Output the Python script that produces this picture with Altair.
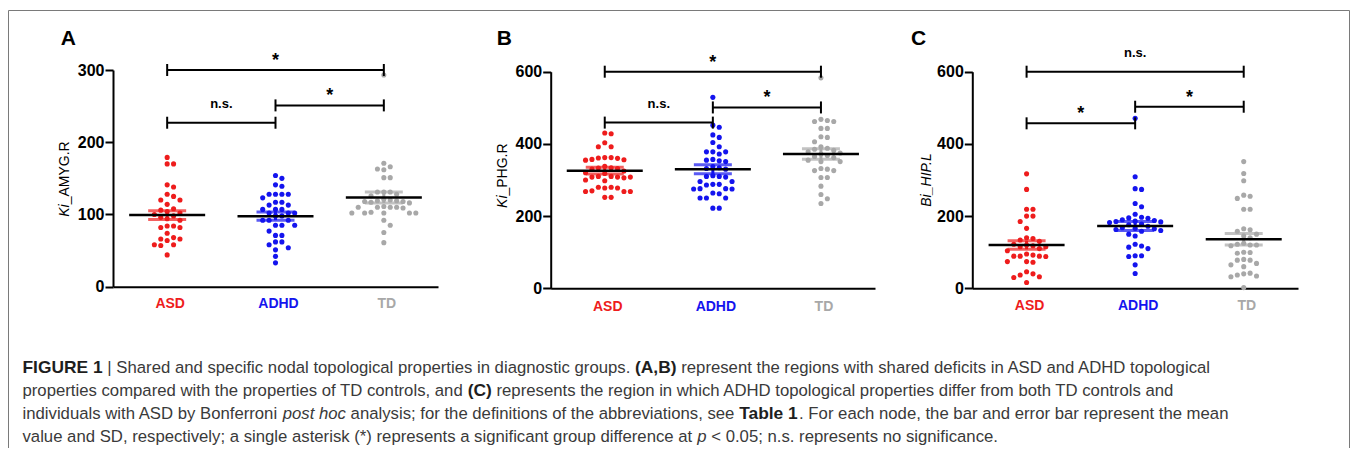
import altair as alt
import pandas as pd

GROUPS = ["ASD", "ADHD", "TD"]
GROUP_COLORS = ["#ee1c1c", "#1414ee", "#a8a8a8"]

# ---------------- Panel A : Ki_AMYG.R ----------------
A_ASD = [179, 170, 170, 141, 138, 128, 125, 120, 120, 114, 108, 106, 104, 102, 100, 98,
         96, 94, 92, 84, 82, 82, 84, 74, 68, 66, 64, 66, 58, 57, 58, 44]
A_ADHD = [154, 150, 141, 139, 128, 128, 128, 128, 123, 117, 117, 113, 113, 107, 107, 107,
          102, 102, 102, 98, 98, 92, 92, 92, 85, 85, 85, 77, 71, 71, 62, 62, 58, 54, 51, 42, 33]
A_TD = [293, 171, 166, 163, 162, 151, 151, 131, 131, 131, 128, 126, 121, 119, 119, 118, 118,
        117, 116, 120, 110, 110, 110, 109, 111, 110, 102, 102, 102, 102, 102, 103, 92, 85, 75, 61]
A_MEAN = [99.2, 97.7, 123.6]
A_SEM = [6.0, 5.6, 7.6]
A_TICKS = [0, 100, 200, 300]
A_BR_FROM = [0, 0, 1]
A_BR_TO = [2, 1, 2]
A_BR_Y = [300, 227, 251]
A_BR_LAB = ["*", "n.s.", "*"]

# ---------------- Panel B : Ki_PHG.R ----------------
B_ASD = [430, 428, 403, 392, 392, 362, 361, 357, 356, 355, 360, 362, 338, 333, 334, 332, 330,
         325, 320, 318, 310, 308, 308, 308, 306, 310, 300, 298, 280, 278, 278, 280, 268, 268,
         268, 270, 252, 252]
B_ADHD = [529, 452, 446, 425, 418, 404, 392, 378, 372, 378, 378, 357, 355, 351, 353, 337, 332,
          330, 334, 310, 308, 310, 312, 296, 296, 288, 286, 288, 275, 275, 276, 276, 262, 264,
          250, 250, 250, 222, 222]
B_TD = [583, 468, 462, 462, 465, 443, 443, 418, 420, 406, 392, 388, 385, 382, 378, 375, 372,
        368, 365, 362, 351, 351, 355, 330, 326, 326, 332, 307, 307, 283, 260, 248, 235]
B_MEAN = [325.8, 329.5, 372.0]
B_SEM = [9.5, 12.5, 14.5]
B_TICKS = [0, 200, 400, 600]
B_BR_FROM = [0, 0, 1]
B_BR_TO = [2, 1, 2]
B_BR_Y = [600, 459, 501]
B_BR_LAB = ["*", "n.s.", "*"]

# ---------------- Panel C : Bi_HIP.L ----------------
C_ASD = [317, 274, 219, 219, 200, 200, 185, 166, 140, 138, 134, 130, 122, 118, 115, 120, 115,
         110, 104, 95, 92, 88, 89, 89, 89, 74, 72, 74, 46, 40, 37, 32, 30, 16]
C_ADHD = [471, 309, 276, 274, 235, 226, 205, 197, 195, 194, 190, 188, 186, 185, 184, 182, 178,
          176, 172, 168, 166, 165, 163, 160, 158, 150, 145, 122, 117, 114, 110, 90, 90, 88, 65, 41]
C_TD = [351, 318, 298, 258, 249, 255, 219, 219, 162, 165, 158, 150, 145, 140, 125, 122, 120,
        118, 120, 100, 97, 99, 80, 78, 78, 69, 65, 60, 42, 40, 34, 32, 37, 2]
C_MEAN = [120.0, 172.6, 135.7]
C_SEM = [12.0, 12.5, 16.0]
C_TICKS = [0, 200, 400, 600]
C_BR_FROM = [0, 0, 1]
C_BR_TO = [2, 1, 2]
C_BR_Y = [600, 457, 503]
C_BR_LAB = ["n.s.", "*", "*"]

SANS = "Liberation Sans, Arial, sans-serif"
CAP_FONT = SANS
W, H = 1342, 440
X_DOMAIN = [-0.5, 2.5]


def swarm(vals, px_per_unit, step_px, slot_px=6.4, min_dy=6.5):
    """Deterministic beeswarm: x offsets (in category units) so dots do not overlap."""
    order = sorted(range(len(vals)), key=lambda i: -vals[i])
    placed = []
    offs = [0.0] * len(vals)
    for i in order:
        yp = vals[i] * px_per_unit
        for k in [0, 1, -1, 2, -2, 3, -3, 4, -4, 5, -5, 6, -6]:
            if all(not (sk == k and abs(yp - py) < min_dy) for py, sk in placed):
                placed.append((yp, k))
                offs[i] = k * slot_px / step_px
                break
    return offs


def panel(series, means, sems, ticks, br_from, br_to, br_y, br_lab, xr, yr, label_y):
    ydom = [ticks[0], ticks[-1]]
    ppu = (yr[0] - yr[1]) / (ydom[1] - ydom[0])
    step = (xr[1] - xr[0]) / (X_DOMAIN[1] - X_DOMAIN[0])
    rows = []
    for gi, (g, vals) in enumerate(zip(GROUPS, series)):
        offs = swarm(vals, ppu, step)
        for v, o in zip(vals, offs):
            rows.append({"grp": g, "x": gi + o, "v": v})
    pts = pd.DataFrame(rows)
    stats = pd.DataFrame({"grp": GROUPS, "gi": [0, 1, 2], "mean": means,
                          "lo": [m - s for m, s in zip(means, sems)],
                          "hi": [m + s for m, s in zip(means, sems)]})
    caps = pd.concat([stats.assign(yc=stats["lo"]), stats.assign(yc=stats["hi"])])
    br = pd.DataFrame({"x1": br_from, "x2": br_to, "y": br_y, "lab": br_lab})
    br["xm"] = (br["x1"] + br["x2"]) / 2
    ends = pd.concat([pd.DataFrame({"xe": br["x1"], "y": br["y"]}),
                      pd.DataFrame({"xe": br["x2"], "y": br["y"]})])
    labs = pd.DataFrame({"grp": GROUPS, "gi": [0, 1, 2]})

    xs = alt.Scale(domain=X_DOMAIN, range=list(xr), nice=False, zero=False)
    ys = alt.Scale(domain=ydom, range=list(yr), nice=False, zero=False)
    xax = alt.Axis(orient="bottom", offset=yr[0] - H, labels=False, ticks=False, grid=False,
                   title=None, domainColor="black", domainWidth=2)
    yax = alt.Axis(orient="left", offset=-xr[0], values=ticks, grid=False, title=None,
                   domainColor="black", domainWidth=2, tickColor="black", tickWidth=2,
                   tickSize=8, labelFont=SANS, labelFontSize=16, labelFontWeight="bold",
                   labelColor="black", labelPadding=1, labelFlush=False, labelOverlap=False)
    col = alt.Color("grp:N", scale=alt.Scale(domain=GROUPS, range=GROUP_COLORS), legend=None)

    def X(f):
        return alt.X(f, scale=xs, axis=xax)

    def Y(f):
        return alt.Y(f, scale=ys, axis=yax)

    points = alt.Chart(pts).mark_circle(size=26, opacity=1).encode(
        x=X("x:Q"), y=Y("v:Q"), color=col)
    sem_rule = alt.Chart(stats).mark_rule(strokeWidth=3).encode(
        x=X("gi:Q"), y=Y("lo:Q"), y2="hi:Q", color=col)
    sem_caps = alt.Chart(caps).mark_tick(orient="horizontal", size=38, thickness=3).encode(
        x=X("gi:Q"), y=Y("yc:Q"), color=col)
    mean_line = alt.Chart(stats).mark_tick(orient="horizontal", size=76, thickness=2.5,
                                           color="black", opacity=1).encode(
        x=X("gi:Q"), y=Y("mean:Q"))
    br_rule = alt.Chart(br).mark_rule(strokeWidth=2, color="black").encode(
        x=X("x1:Q"), x2="x2:Q", y=Y("y:Q"))
    br_ends = alt.Chart(ends).mark_tick(orient="vertical", size=12, thickness=2,
                                        color="black", opacity=1).encode(
        x=X("xe:Q"), y=Y("y:Q"))
    stars = alt.Chart(br).transform_filter(alt.datum.lab == "*").mark_text(
        font=SANS, fontSize=18, fontWeight="bold", color="black", dy=-4,
        baseline="alphabetic").encode(x=X("xm:Q"), y=Y("y:Q"), text="lab:N")
    ns = alt.Chart(br).transform_filter(alt.datum.lab == "n.s.").mark_text(
        font=SANS, fontSize=13, fontWeight="bold", color="black", dy=-15,
        baseline="alphabetic").encode(x=X("xm:Q"), y=Y("y:Q"), text="lab:N")
    cat = alt.Chart(labs).mark_text(font=SANS, fontSize=14, fontWeight="bold",
                                    baseline="alphabetic", dx=3).encode(
        x=X("gi:Q"), y=alt.value(label_y), text="grp:N", color=col)
    return alt.layer(points, sem_rule, sem_caps, mean_line, br_rule, br_ends, stars, ns, cat)


pA = panel([A_ASD, A_ADHD, A_TD], A_MEAN, A_SEM, A_TICKS, A_BR_FROM, A_BR_TO, A_BR_Y, A_BR_LAB,
           (105.0, 430.0), (278.7, 62.0), 300.0)
pB = panel([B_ASD, B_ADHD, B_TD], B_MEAN, B_SEM, B_TICKS, B_BR_FROM, B_BR_TO, B_BR_Y, B_BR_LAB,
           (542.7, 867.0), (280.3, 63.7), 302.5)
pC = panel([C_ASD, C_ADHD, C_TD], C_MEAN, C_SEM, C_TICKS, C_BR_FROM, C_BR_TO, C_BR_Y, C_BR_LAB,
           (964.3, 1290.0), (280.3, 63.7), 302.0)

ONE = alt.Data(values=[{}])


def txt(s, x, y, size, weight="normal", style="normal", align="left", angle=0,
        color="black", font=SANS):
    return alt.Chart(ONE).mark_text(text=s, font=font, fontSize=size, fontWeight=weight,
                                    fontStyle=style, align=align, baseline="alphabetic",
                                    angle=angle, color=color).encode(
        x=alt.value(x), y=alt.value(y))


deco = [
    alt.Chart(ONE).mark_rect(fillOpacity=0, stroke="#7a7a7a", strokeWidth=1).encode(
        x=alt.value(0.5), x2=alt.value(1341.5), y=alt.value(2.5), y2=alt.value(480)),
    txt("A", 52.7, 37, 21, weight="bold"),
    txt("B", 488.7, 37, 21, weight="bold"),
    txt("C", 903, 37, 21, weight="bold"),
    txt("Ki", 60.5, 196.3, 14, style="italic", align="right", angle=270),
    txt("_AMYG.R", 60.5, 196.3, 14, align="left", angle=270),
    txt("Ki", 499, 187.5, 14, style="italic", align="right", angle=270),
    txt("_PHG.R", 499, 187.5, 14, align="left", angle=270),
    txt("Bi_HIP.L", 922.5, 172, 14, style="italic", align="center", angle=270),
]

# ---------------- caption (mixed styles laid out with Helvetica/Arial metrics) ----------------
REG = {" ": 278, "(": 333, ")": 333, "*": 389, ",": 278, "-": 333, ".": 278, ":": 278,
       ";": 278, "<": 584, "_": 556, "|": 260}
REG.update({d: 556 for d in "0123456789"})
REG.update(dict(zip("ABCDEFGHIJKLMNOPQRSTUVWXYZ",
                    [667, 667, 722, 722, 667, 611, 778, 722, 278, 500, 667, 556, 833, 722, 778,
                     667, 778, 722, 667, 611, 722, 667, 944, 667, 667, 611])))
REG.update(dict(zip("abcdefghijklmnopqrstuvwxyz",
                    [556, 556, 500, 556, 556, 278, 556, 556, 222, 222, 500, 222, 833, 556, 556,
                     556, 556, 333, 500, 278, 556, 500, 722, 500, 500, 500])))
BOLD = dict(REG)
BOLD.update(dict(zip("ABCDEFGHIJKLMNOPQRSTUVWXYZ",
                     [722, 722, 722, 722, 667, 611, 778, 722, 278, 556, 722, 611, 833, 722, 778,
                      667, 778, 722, 667, 611, 722, 667, 944, 667, 667, 611])))
BOLD.update(dict(zip("abcdefghijklmnopqrstuvwxyz",
                     [556, 611, 556, 611, 556, 333, 611, 611, 278, 278, 556, 278, 889, 611, 611,
                      611, 611, 389, 556, 333, 611, 556, 778, 556, 556, 500])))


def em(s, bold=False):
    t = BOLD if bold else REG
    return sum(t.get(c, 556) for c in s) / 1000.0


CAPTION = [
    [("FIGURE 1", "b"), (" | Shared and specific nodal topological properties in diagnostic groups. ", "n"),
     ("(A,B)", "b"), (" represent the regions with shared deficits in ASD and ADHD topological", "n")],
    [("properties compared with the properties of TD controls, and ", "n"), ("(C)", "b"),
     (" represents the region in which ADHD topological properties differ from both TD controls and", "n")],
    [("individuals with ASD by Bonferroni ", "n"), ("post hoc", "i"),
     (" analysis; for the definitions of the abbreviations, see ", "n"), ("Table 1", "b"),
     (". For each node, the bar and error bar represent the mean", "n")],
    [("value and SD, respectively; a single asterisk (*) represents a significant group difference at ", "n"),
     ("p", "i"), (" < 0.05; n.s. represents no significance.", "n")],
]
CAP_X0 = 14.5
line4_em = sum(em(s, st == "b") for s, st in CAPTION[3])
CAP_FS = (990.0 - CAP_X0) / line4_em
BOLD_FS = CAP_FS * 1.04
CAP_BASE = [364.5, 387.5, 410.5, 433.5]

caption = []
for line, yb in zip(CAPTION, CAP_BASE):
    x = CAP_X0
    for s, st in line:
        b = st == "b"
        fs = BOLD_FS if b else CAP_FS
        lead = len(s) - len(s.lstrip(" "))
        xs_ = x + em(" " * lead, b) * fs
        caption.append(txt(s.strip(" "), xs_, yb, fs,
                           weight="bold" if b else "normal",
                           style="italic" if st == "i" else "normal",
                           color="#1e1e1e" if b else "#3a3a3a", font=CAP_FONT))
        x += em(s, b) * fs

chart = alt.layer(pA, pB, pC, *deco, *caption).resolve_scale(
    x="independent", y="independent").resolve_axis(
    x="independent", y="independent").properties(
    width=W, height=H, autosize=alt.AutoSizeParams(type="none"), padding=0
).configure_view(stroke=None)

chart.save("out.html", embed_options={"renderer": "svg", "actions": False})
